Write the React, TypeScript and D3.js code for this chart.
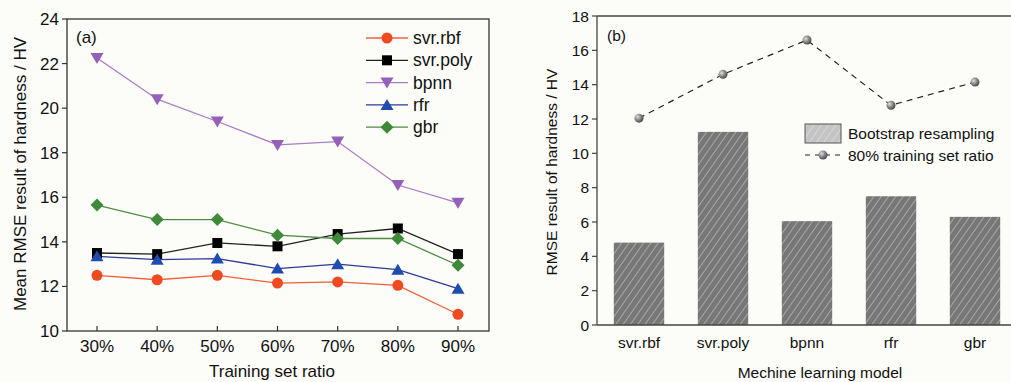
import React from 'react';
import * as d3 from 'd3';

const ratios = ['30%', '40%', '50%', '60%', '70%', '80%', '90%'];
const svrRbf = [12.5, 12.3, 12.5, 12.15, 12.2, 12.05, 10.75];
const svrPoly = [13.5, 13.45, 13.95, 13.8, 14.35, 14.6, 13.45];
const bpnn = [22.25, 20.4, 19.4, 18.35, 18.5, 16.55, 15.75];
const rfr = [13.35, 13.2, 13.25, 12.8, 13.0, 12.75, 11.9];
const gbr = [15.65, 15.0, 15.0, 14.3, 14.15, 14.15, 12.95];
const leftTicks = [10, 12, 14, 16, 18, 20, 22, 24];

const models = ['svr.rbf', 'svr.poly', 'bpnn', 'rfr', 'gbr'];
const bootstrap = [4.8, 11.25, 6.05, 7.5, 6.3];
const ratio80 = [12.05, 14.6, 16.6, 12.8, 14.15];
const rightTicks = [0, 2, 4, 6, 8, 10, 12, 14, 16, 18];

const font = '"Liberation Sans", Arial, sans-serif';

const series = [
  { name: 'svr.rbf', values: svrRbf, line: '#f0603a', mark: '#f04a20', shape: 'circle' },
  { name: 'svr.poly', values: svrPoly, line: '#222', mark: '#000', shape: 'square' },
  { name: 'bpnn', values: bpnn, line: '#a87cc8', mark: '#9560b8', shape: 'down' },
  { name: 'rfr', values: rfr, line: '#2c3a98', mark: '#1e4cb0', shape: 'up' },
  { name: 'gbr', values: gbr, line: '#4f8c42', mark: '#3e8a3a', shape: 'diamond' },
];

function marker(shape: string, x: number, y: number, color: string, key?: string) {
  if (shape === 'circle') return <circle key={key} cx={x} cy={y} r={5.5} fill={color} />;
  if (shape === 'square') return <rect key={key} x={x - 5} y={y - 5} width={10} height={10} fill={color} />;
  if (shape === 'down') return <path key={key} d={`M${x - 6.5},${y - 5}L${x + 6.5},${y - 5}L${x},${y + 6}Z`} fill={color} />;
  if (shape === 'up') return <path key={key} d={`M${x - 6.5},${y + 5}L${x + 6.5},${y + 5}L${x},${y - 6}Z`} fill={color} />;
  return <path key={key} d={`M${x},${y - 6.5}L${x + 6.5},${y}L${x},${y + 6.5}L${x - 6.5},${y}Z`} fill={color} />;
}

function LeftChart() {
  const L = 67, R = 489, T = 19, B = 331;
  const x = d3.scalePoint().domain(ratios).range([97, 458]);
  const y = d3.scaleLinear().domain([10, 24]).range([B, T]);
  const line = d3.line<number>().x((_, i) => x(ratios[i])!).y(d => y(d));
  return (
    <g fontFamily={font} fill="#111">
      {series.map(s => (
        <path key={s.name} d={line(s.values)!} fill="none" stroke={s.line} strokeWidth={1.3} />
      ))}
      {series.map(s => s.values.map((v, i) => marker(s.shape, x(ratios[i])!, y(v), s.mark, s.name + i)))}
      <rect x={L} y={T} width={R - L} height={B - T} fill="none" stroke="#333" strokeWidth={1.3} />
      {leftTicks.map(t => (
        <g key={t}>
          <line x1={L} x2={L - 5} y1={y(t)} y2={y(t)} stroke="#333" strokeWidth={1.2} />
          <text x={L - 8} y={y(t) + 6} fontSize={17} textAnchor="end">{t}</text>
        </g>
      ))}
      {ratios.map(r => (
        <g key={r}>
          <line x1={x(r)} x2={x(r)} y1={B} y2={B - 5} stroke="#333" strokeWidth={1.2} />
          <text x={x(r)} y={352} fontSize={17} textAnchor="middle">{r}</text>
        </g>
      ))}
      <text x={272} y={377} fontSize={17} textAnchor="middle">Training set ratio</text>
      <text transform="translate(26,174) rotate(-90)" fontSize={17} textAnchor="middle">
        Mean RMSE result of hardness / HV
      </text>
      <text x={76} y={43} fontSize={17}>(a)</text>
      {series.map((s, i) => {
        const ly = 38 + i * 22.3;
        return (
          <g key={s.name}>
            <line x1={366} x2={408} y1={ly} y2={ly} stroke={s.line} strokeWidth={1.3} />
            {marker(s.shape, 387, ly, s.mark)}
            <text x={413} y={ly + 6} fontSize={17.5}>{s.name}</text>
          </g>
        );
      })}
    </g>
  );
}

function RightChart() {
  const L = 597, R = 1012, T = 16, B = 325;
  const x = d3.scaleBand().domain(models).range([597, 1017]).paddingInner(0.4).paddingOuter(0.2);
  const y = d3.scaleLinear().domain([0, 18]).range([B, T]);
  const cx = (m: string) => x(m)! + x.bandwidth() / 2;
  const line = d3.line<number>().x((_, i) => cx(models[i])).y(d => y(d));
  return (
    <g fontFamily={font} fill="#111">
      <defs>
        <pattern id="hatch" width={6} height={6} patternUnits="userSpaceOnUse" patternTransform="rotate(35)">
          <rect width={6} height={6} fill="#777" />
          <line x1={0} y1={0} x2={0} y2={6} stroke="#cfcfcf" strokeWidth={1.1} />
        </pattern>
        <pattern id="hatchLight" width={6} height={6} patternUnits="userSpaceOnUse" patternTransform="rotate(35)">
          <rect width={6} height={6} fill="#c4c4c4" />
          <line x1={0} y1={0} x2={0} y2={6} stroke="#e8e8e8" strokeWidth={1} />
        </pattern>
        <radialGradient id="ball" cx="0.35" cy="0.35" r="0.7">
          <stop offset="0" stopColor="#e0e0e0" />
          <stop offset="0.5" stopColor="#8a8a8a" />
          <stop offset="1" stopColor="#444" />
        </radialGradient>
      </defs>
      {models.map((m, i) => (
        <rect key={m} x={x(m)} y={y(bootstrap[i])} width={x.bandwidth()} height={B - y(bootstrap[i])} fill="url(#hatch)" />
      ))}
      <path d={line(ratio80)!} fill="none" stroke="#222" strokeWidth={1.2} strokeDasharray="6,5" />
      {ratio80.map((v, i) => (
        <circle key={i} cx={cx(models[i])} cy={y(v)} r={4.5} fill="url(#ball)" />
      ))}
      <line x1={L} x2={L} y1={T} y2={B} stroke="#444" strokeWidth={1.3} />
      <line x1={L} x2={R} y1={T} y2={T} stroke="#444" strokeWidth={1.3} />
      <line x1={L} x2={R} y1={B} y2={B} stroke="#444" strokeWidth={1.3} />
      {rightTicks.map(t => (
        <g key={t}>
          <line x1={L} x2={L - 5} y1={y(t)} y2={y(t)} stroke="#444" strokeWidth={1.2} />
          <text x={L - 8} y={y(t) + 5.5} fontSize={15.5} textAnchor="end">{t}</text>
        </g>
      ))}
      {models.map(m => (
        <text key={m} x={cx(m)} y={348} fontSize={15.5} textAnchor="middle">{m}</text>
      ))}
      <text x={820} y={378} fontSize={15.5} textAnchor="middle">Mechine learning model</text>
      <text transform="translate(557,172) rotate(-90)" fontSize={15.5} textAnchor="middle">
        RMSE result of hardness / HV
      </text>
      <text x={607} y={41} fontSize={15.5}>(b)</text>
      <rect x={805} y={124} width={36} height={19} fill="url(#hatchLight)" stroke="#555" strokeWidth={1} />
      <text x={848} y={139} fontSize={15.5}>Bootstrap resampling</text>
      <line x1={805} x2={845} y1={155} y2={155} stroke="#222" strokeWidth={1.2} strokeDasharray="5,5" />
      <circle cx={823} cy={155} r={4.5} fill="url(#ball)" />
      <text x={848} y={160.5} fontSize={15.5}>80% training set ratio</text>
    </g>
  );
}

export default function App() {
  return (
    <svg width={1011} height={382} style={{ position: 'absolute', left: 0, top: 0, background: '#fcfcf8' }}>
      <LeftChart />
      <RightChart />
    </svg>
  );
}
